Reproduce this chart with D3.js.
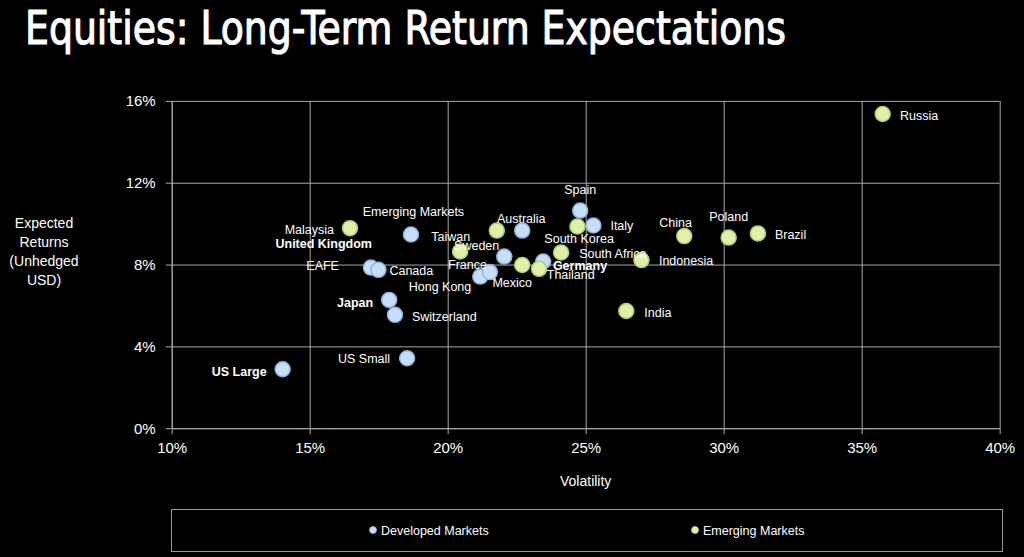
<!DOCTYPE html>
<html>
<head>
<meta charset="utf-8">
<script src="https://cdn.jsdelivr.net/npm/d3@7"></script>
<style>
  html, body { margin: 0; padding: 0; background: #000; }
  svg { display: block; }
</style>
</head>
<body>
<svg id="chart" width="1024" height="557"></svg>
<script>
// ---------- DATA ----------
const devNames = ["US Large", "US Small", "Switzerland", "Japan", "EAFE", "Canada", "United Kingdom",
  "Australia", "Spain", "Italy", "Sweden", "Germany", "Hong Kong", "France"];
const devVol = [0.1402, 0.1853, 0.1809, 0.1788, 0.1722, 0.1749, 0.1867,
  0.2270, 0.2480, 0.2528, 0.2205, 0.2346, 0.2118, 0.2153];
const devRet = [0.0288, 0.0342, 0.0554, 0.0627, 0.0785, 0.0774, 0.0947,
  0.0966, 0.1064, 0.0991, 0.0839, 0.0815, 0.0741, 0.0763];

const emNames = ["Malaysia", "Emerging Markets", "South Korea", "Taiwan", "Mexico", "Thailand",
  "South Africa", "Indonesia", "India", "China", "Poland", "Brazil", "Russia"];
const emVol = [0.1646, 0.2178, 0.2470, 0.2045, 0.2270, 0.2331, 0.2411, 0.2702, 0.2647, 0.2857, 0.3018, 0.3124, 0.3576];
const emRet = [0.0978, 0.0966, 0.0986, 0.0864, 0.0798, 0.0779, 0.0859, 0.0822, 0.0573, 0.0939, 0.0932, 0.0952, 0.1536];

const xTicks = [0.10, 0.15, 0.20, 0.25, 0.30, 0.35, 0.40];
const yTicks = [0, 0.04, 0.08, 0.12, 0.16];

const seriesNames = ["Developed Markets", "Emerging Markets"];
const titleText = "Equities: Long-Term Return Expectations";
const xTitle = "Volatility";
const yTitleLines = ["Expected", "Returns", "(Unhedged", "USD)"];

// ---------- LAYOUT / STYLE ----------
// label placement relative to each point: [dx, dy, anchor, bold]
const labelLayout = {
  "US Large": [-16, 2.4, "end", true],
  "US Small": [-17, 0.7, "end", false],
  "Switzerland": [17, 1.7, "start", false],
  "Japan": [-16, 3, "end", true],
  "EAFE": [-32, -2, "end", false],
  "Canada": [11, 0.7, "start", false],
  "United Kingdom": [-39, 9.3, "end", true],
  "Australia": [-1, -12.4, "middle", false],
  "Spain": [0, -20.7, "middle", false],
  "Italy": [17, 0.3, "start", false],
  "Sweden": [-5, -11, "end", false],
  "Germany": [9.7, 4, "start", true],
  "Hong Kong": [-9, 10.3, "end", false],
  "France": [-3, -7.3, "end", false],
  "Malaysia": [-16, 1, "end", false],
  "Emerging Markets": [-32.7, -18.7, "end", false],
  "South Korea": [1.7, 12.3, "middle", false],
  "Taiwan": [10, -14.7, "end", false],
  "Mexico": [-10, 17.3, "middle", false],
  "Thailand": [7.7, 6, "start", false],
  "South Africa": [18, 1, "start", false],
  "Indonesia": [17.5, 0.8, "start", false],
  "India": [18, 1.3, "start", false],
  "China": [-8.6, -13.6, "middle", false],
  "Poland": [0, -21, "middle", false],
  "Brazil": [17, 1.3, "start", false],
  "Russia": [17.3, 1.4, "start", false]
};

const colors = {
  dev: { fill: "#c8ddf6", stroke: "#8db3e2" },
  em: { fill: "#dff0ab", stroke: "#b2cf6a" },
  grid: "#a9a9a9",
  text: "#ffffff"
};

const plot = { left: 171.7, right: 999.7, top: 100.9, bottom: 428.2 };

const svg = d3.select("#chart");
svg.append("rect").attr("width", 1024).attr("height", 557).attr("fill", "#000");

const x = d3.scaleLinear().domain([0.10, 0.40]).range([plot.left, plot.right]);
const y = d3.scaleLinear().domain([0, 0.16]).range([plot.bottom, plot.top]);
const pct = d3.format(".0%");

// Title
svg.append("text")
  .attr("x", 25).attr("y", 44)
  .attr("fill", colors.text)
  .attr("stroke", colors.text).attr("stroke-width", 1.1)
  .attr("font-family", "'Liberation Sans Narrow', 'DejaVu Sans Condensed', 'Liberation Sans', sans-serif")
  .attr("font-weight", "normal")
  .attr("font-size", 46)
  .attr("textLength", 761)
  .attr("lengthAdjust", "spacingAndGlyphs")
  .text(titleText);

// Gridlines + axes
const gY = svg.append("g")
  .attr("transform", `translate(${plot.left},0)`)
  .call(d3.axisLeft(y).tickValues(yTicks).tickFormat(pct)
    .tickSizeInner(-(plot.right - plot.left)).tickSizeOuter(0).tickPadding(16));
gY.select(".domain").attr("stroke", colors.grid);
gY.selectAll(".tick line").attr("stroke", colors.grid).attr("x1", -6);
gY.selectAll(".tick text").attr("fill", colors.text)
  .attr("font-family", "'Liberation Sans', Arial, sans-serif").attr("font-size", 15);

const gX = svg.append("g")
  .attr("transform", `translate(0,${plot.bottom})`)
  .call(d3.axisBottom(x).tickValues(xTicks).tickFormat(pct)
    .tickSizeInner(-(plot.bottom - plot.top)).tickSizeOuter(0).tickPadding(14));
gX.select(".domain").attr("stroke", colors.grid);
gX.selectAll(".tick line").attr("stroke", colors.grid).attr("y1", 6);
gX.selectAll(".tick text").attr("fill", colors.text)
  .attr("font-family", "'Liberation Sans', Arial, sans-serif").attr("font-size", 15);

// Axis titles
svg.append("text")
  .attr("x", (plot.left + plot.right) / 2).attr("y", 486)
  .attr("text-anchor", "middle").attr("fill", colors.text)
  .attr("font-family", "'Liberation Sans', Arial, sans-serif").attr("font-size", 14)
  .text(xTitle);

svg.append("g").selectAll("text").data(yTitleLines).join("text")
  .attr("x", 44).attr("y", (d, i) => 227.5 + i * 19)
  .attr("text-anchor", "middle").attr("fill", colors.text)
  .attr("font-family", "'Liberation Sans', Arial, sans-serif").attr("font-size", 14)
  .text(d => d);

// Points
function drawSeries(names, vols, rets, col) {
  const data = names.map((n, i) => ({ name: n, vol: vols[i], ret: rets[i] }));
  const g = svg.append("g");
  g.selectAll("circle").data(data).join("circle")
    .attr("cx", d => x(d.vol)).attr("cy", d => y(d.ret)).attr("r", 7.5)
    .attr("fill", col.fill).attr("stroke", col.stroke).attr("stroke-width", 1.5);
  return data;
}
const devData = drawSeries(devNames, devVol, devRet, colors.dev);
const emData = drawSeries(emNames, emVol, emRet, colors.em);

// Labels
const allData = devData.concat(emData);
svg.append("g").selectAll("text").data(allData).join("text")
  .attr("x", d => x(d.vol) + labelLayout[d.name][0])
  .attr("y", d => y(d.ret) + labelLayout[d.name][1] + 4.5)
  .attr("text-anchor", d => labelLayout[d.name][2])
  .attr("font-weight", d => labelLayout[d.name][3] ? "bold" : "normal")
  .attr("fill", colors.text)
  .attr("font-family", "'Liberation Sans', Arial, sans-serif")
  .attr("font-size", 12.5)
  .text(d => d.name);

// Legend
const legend = svg.append("g");
legend.append("rect")
  .attr("x", 171.5).attr("y", 509.5).attr("width", 831).attr("height", 42)
  .attr("fill", "none").attr("stroke", "#9a9a9a").attr("stroke-width", 1);
const legendItems = [
  { name: seriesNames[0], col: colors.dev, x: 373 },
  { name: seriesNames[1], col: colors.em, x: 695 }
];
const li = legend.selectAll("g.item").data(legendItems).join("g")
  .attr("transform", d => `translate(${d.x},530)`);
li.append("circle").attr("r", 3.5).attr("fill", d => d.col.fill).attr("stroke", d => d.col.stroke).attr("stroke-width", 0.8);
li.append("text").attr("x", 8).attr("y", 4.5)
  .attr("fill", colors.text)
  .attr("font-family", "'Liberation Sans', Arial, sans-serif").attr("font-size", 12.5)
  .text(d => d.name);
</script>
</body>
</html>
